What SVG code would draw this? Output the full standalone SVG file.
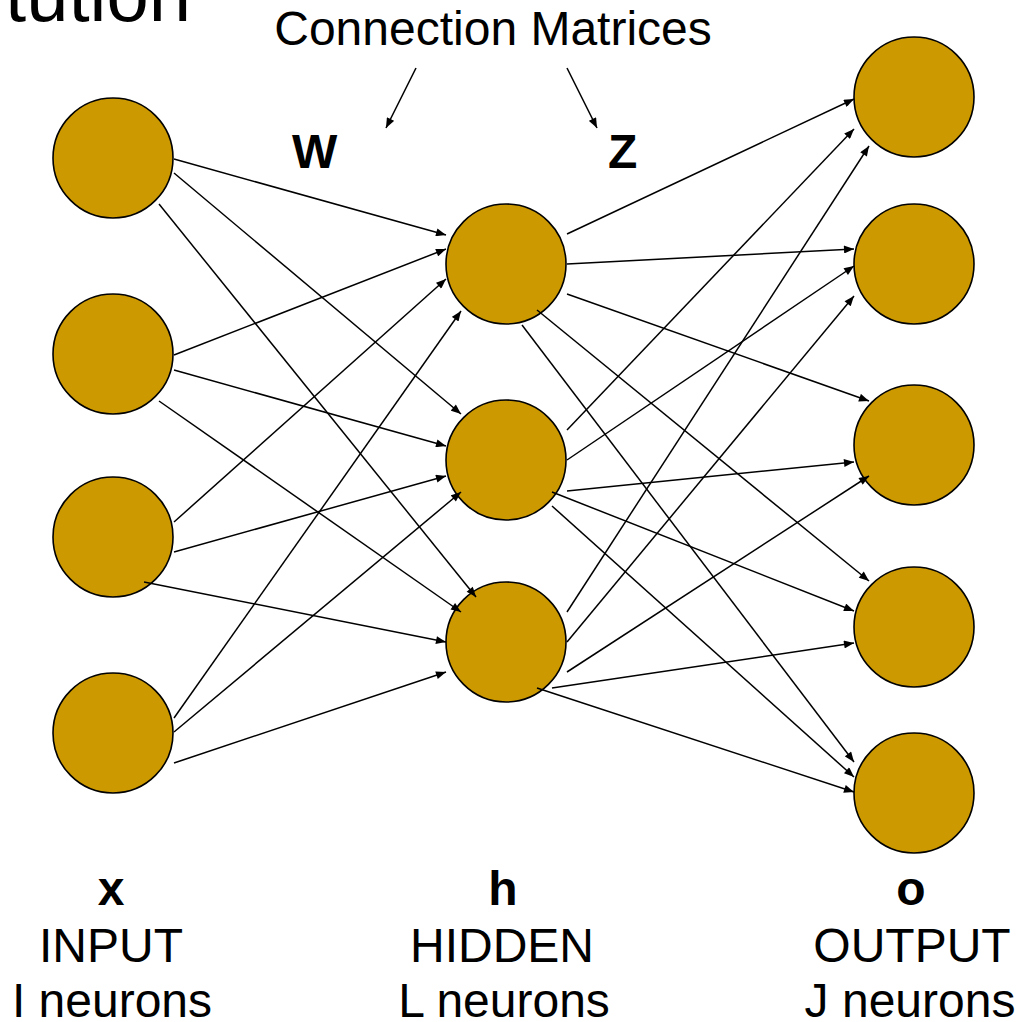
<svg xmlns="http://www.w3.org/2000/svg" width="1019" height="1022" viewBox="0 0 1019 1022">
  <style>
    .neuron { fill: #CC9900; stroke: #000; stroke-width: 1.6; }
    .edge { stroke: #000; stroke-width: 1.5; fill: none; marker-end: url(#arrow); }
    .lbl { font-family: "Liberation Sans", Arial, sans-serif; font-size: 48px; fill: #000; }
    .bold { font-weight: bold; }
    .mid { text-anchor: middle; }
  </style>
  <defs>
    <marker id="arrow" viewBox="0 0 10 8" refX="10" refY="4" markerWidth="11" markerHeight="8" markerUnits="userSpaceOnUse" orient="auto">
      <path d="M0,0 L10,4 L0,8 z" fill="#000"/>
    </marker>
  </defs>
  <rect width="1019" height="1022" fill="#fff"/>

  <!-- heading fragment and captions -->
  <text class="lbl" x="191" y="21" text-anchor="end" style="font-size:76px">tution</text>
  <text class="lbl mid" x="493" y="45">Connection Matrices</text>
  <text class="lbl bold" x="292" y="168">W</text>
  <text class="lbl bold" x="608" y="168">Z</text>

  <!-- input layer -->
  <g id="input-1"><circle class="neuron" cx="113" cy="158" r="60"/></g>
  <g id="input-2"><circle class="neuron" cx="113" cy="354" r="60"/></g>
  <g id="input-3"><circle class="neuron" cx="113" cy="537" r="60"/></g>
  <g id="input-4"><circle class="neuron" cx="113" cy="733" r="60"/></g>

  <!-- hidden layer -->
  <g id="hidden-1"><circle class="neuron" cx="506" cy="264" r="60"/></g>
  <g id="hidden-2"><circle class="neuron" cx="506" cy="460" r="60"/></g>
  <g id="hidden-3"><circle class="neuron" cx="506" cy="642" r="60"/></g>

  <!-- output layer -->
  <g id="output-1"><circle class="neuron" cx="914" cy="97" r="60"/></g>
  <g id="output-2"><circle class="neuron" cx="914" cy="264" r="60"/></g>
  <g id="output-3"><circle class="neuron" cx="914" cy="445" r="60"/></g>
  <g id="output-4"><circle class="neuron" cx="914" cy="627" r="60"/></g>
  <g id="output-5"><circle class="neuron" cx="914" cy="793" r="60"/></g>

  <g id="connectors">
    <!-- caption pointers -->
    <line class="edge" x1="416" y1="68" x2="386" y2="128"/>
    <line class="edge" x1="567" y1="68" x2="597" y2="128"/>

    <!-- W: input to hidden -->
    <line class="edge" x1="174" y1="159" x2="446" y2="235"/>
    <line class="edge" x1="174" y1="173" x2="461" y2="414"/>
    <line class="edge" x1="159" y1="204" x2="476" y2="597"/>
    <line class="edge" x1="174" y1="355" x2="446" y2="249"/>
    <line class="edge" x1="174" y1="370" x2="446" y2="446"/>
    <line class="edge" x1="159" y1="401" x2="461" y2="612"/>
    <line class="edge" x1="174" y1="522" x2="446" y2="279"/>
    <line class="edge" x1="174" y1="552" x2="446" y2="476"/>
    <line class="edge" x1="144" y1="582" x2="446" y2="642"/>
    <line class="edge" x1="174" y1="718" x2="461" y2="311"/>
    <line class="edge" x1="174" y1="732" x2="461" y2="492"/>
    <line class="edge" x1="174" y1="763" x2="446" y2="672"/>

    <!-- Z: hidden to output -->
    <line class="edge" x1="567" y1="234" x2="854" y2="99"/>
    <line class="edge" x1="567" y1="264" x2="854" y2="249"/>
    <line class="edge" x1="567" y1="294" x2="869" y2="401"/>
    <line class="edge" x1="537" y1="310" x2="869" y2="581"/>
    <line class="edge" x1="522" y1="325" x2="854" y2="762"/>
    <line class="edge" x1="567" y1="430" x2="854" y2="129"/>
    <line class="edge" x1="567" y1="460" x2="854" y2="266"/>
    <line class="edge" x1="567" y1="491" x2="854" y2="462"/>
    <line class="edge" x1="552" y1="492" x2="854" y2="611"/>
    <line class="edge" x1="552" y1="506" x2="854" y2="777"/>
    <line class="edge" x1="567" y1="612" x2="869" y2="146"/>
    <line class="edge" x1="567" y1="642" x2="854" y2="296"/>
    <line class="edge" x1="567" y1="672" x2="869" y2="476"/>
    <line class="edge" x1="552" y1="688" x2="854" y2="643"/>
    <line class="edge" x1="537" y1="688" x2="854" y2="792"/>
  </g>

  <!-- layer captions -->
  <text class="lbl bold mid" x="111" y="905">x</text>
  <text class="lbl mid" x="111" y="962">INPUT</text>
  <text class="lbl mid" x="112" y="1017">I neurons</text>
  <text class="lbl bold mid" x="503" y="905">h</text>
  <text class="lbl mid" x="502" y="962">HIDDEN</text>
  <text class="lbl mid" x="504" y="1017">L neurons</text>
  <text class="lbl bold mid" x="911" y="905">o</text>
  <text class="lbl mid" x="912" y="962">OUTPUT</text>
  <text class="lbl mid" x="910" y="1017">J neurons</text>
</svg>
